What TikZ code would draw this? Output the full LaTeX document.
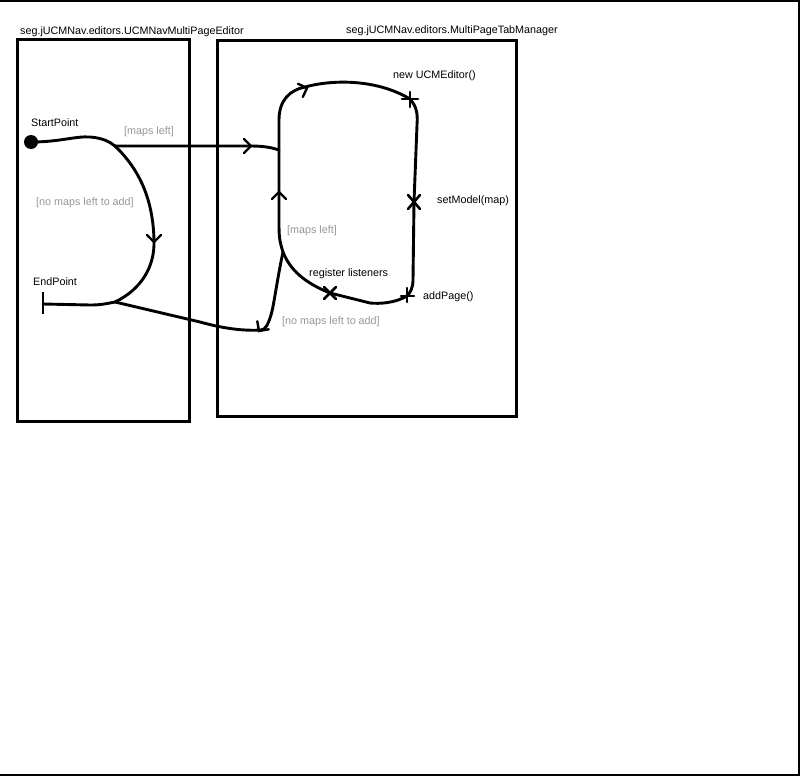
\documentclass[tikz,border=0pt]{standalone}
\usepackage{fontspec}
\setmainfont{Liberation Sans}
\usetikzlibrary{calc}
\begin{document}
\begin{tikzpicture}[x=1bp,y=-1bp,
  lbl/.style={anchor=west,inner sep=0pt,font=\fontsize{10.8}{12}\selectfont},
  glbl/.style={lbl,text=guard},
  box/.style={draw,line width=3bp},
  path/.style={draw,line width=2.9bp,line cap=round,line join=round},
  chev/.style={draw,line width=2.4bp,line cap=round,line join=miter},
  resp/.style={draw,line width=2.6bp,line cap=round}]
\definecolor{guard}{RGB}{150,150,150}
\useasboundingbox (0,0) rectangle (812,777);
% outer frame
\draw[line width=1.6bp] (0,1) -- (799,1) -- (799,775) -- (0,775);
% components
\node[box,minimum width=171bp,minimum height=381bp,inner sep=0pt] (compL) at (103.5,230.5) {};
\node[box,minimum width=299bp,minimum height=376bp,inner sep=0pt] (compR) at (366.5,228.5) {};
\node[lbl] (tL) at (20,31.5) {seg.jUCMNav.editors.UCMNavMultiPageEditor};
\node[lbl] (tR) at (346,30.5) {seg.jUCMNav.editors.MultiPageTabManager};
% key points
\node[circle,fill,inner sep=0pt,minimum size=14bp] (start) at (31,142) {};
\coordinate (f1) at (115,146);
\coordinate (j1) at (115,302);
\coordinate (endp) at (43,304);
\coordinate (inR) at (279,150);
\coordinate (lt) at (279,120);
\coordinate (m1) at (410,99);
\coordinate (m2) at (414,202);
\coordinate (m3) at (407,296);
\coordinate (m4) at (330,293);
\coordinate (fR) at (283,252);
\coordinate (ex) at (261,330);
% paths
\draw[path] (start.center) .. controls (60,142) and (75,136) .. (90,137) .. controls (103,138) and (110,142) .. (f1);
\draw[path] (f1) -- (251,146) .. controls (265,146) and (273,148) .. (inR);
\draw[path] (f1) .. controls (140,170) and (153,200) .. (154,240) .. controls (155,268) and (140,290) .. (j1);
\draw[path] (j1) .. controls (105,304) and (100,305) .. (90,305) -- (endp);
\draw[line width=2.9bp] (43,292) -- (43,314);
\draw[path] (fR) .. controls (279,240) and (279,235) .. (279,220) -- (inR) -- (lt)
  .. controls (279,100) and (290,90) .. (305,87) .. controls (330,80) and (375,78) .. (m1)
  .. controls (416,106) and (418,112) .. (417,125) -- (m2) -- (413,280) .. controls (413,288) and (410,293) .. (m3)
  .. controls (395,303) and (380,304) .. (370,303) -- (m4) .. controls (305,283) and (290,270) .. (fR);
\draw[path] (fR) .. controls (277,280) and (274,305) .. (271,315) .. controls (268,325) and (265,330) .. (ex)
  .. controls (245,331) and (225,329) .. (200,322) -- (j1);
% arrowheads (open chevrons)
\draw[chev,shift={(251,146)}] (-7,-7) -- (0,0) -- (-7,7);
\draw[chev,shift={(154,242)},rotate=-90] (-7,-7) -- (0,0) -- (-7,7);
\draw[chev,shift={(279,192)},rotate=90] (-7,-7) -- (0,0) -- (-7,7);
\draw[chev,shift={(307,88)},rotate=20] (-7,-7) -- (0,0) -- (-7,7);
\draw[chev,shift={(259,331)},rotate=235] (-7,-7) -- (0,0) -- (-7,7);
% responsibilities
\draw[resp] ($(m1)+(-8,0)$) -- ($(m1)+(8,0)$) ($(m1)+(0,-7)$) -- ($(m1)+(0,8)$);
\draw[resp] ($(m2)+(-6,-7)$) -- ($(m2)+(6,7)$) ($(m2)+(-6,7)$) -- ($(m2)+(6,-7)$);
\draw[resp] ($(m3)+(-6,0)$) -- ($(m3)+(7,0)$) ($(m3)+(0,-8)$) -- ($(m3)+(0,6)$);
\draw[resp] ($(m4)+(-6,-6)$) -- ($(m4)+(6,6)$) ($(m4)+(-6,6)$) -- ($(m4)+(6,-6)$);
% labels
\node[lbl] (lsp) at (31,122.5) {StartPoint};
\node[lbl] (lep) at (33,281.5) {EndPoint};
\node[glbl] (g1) at (124,131.5) {[maps left]};
\node[glbl] (g2) at (36,202.5) {[no maps left to add]};
\node[glbl] (g3) at (287,230.5) {[maps left]};
\node[glbl] (g4) at (282,321.5) {[no maps left to add]};
\node[lbl] (l1) at (393,75.5) {new UCMEditor()};
\node[lbl] (l2) at (437,200.5) {setModel(map)};
\node[lbl] (l3) at (309,273.5) {register listeners};
\node[lbl] (l4) at (423,296.5) {addPage()};
\end{tikzpicture}
\end{document}
